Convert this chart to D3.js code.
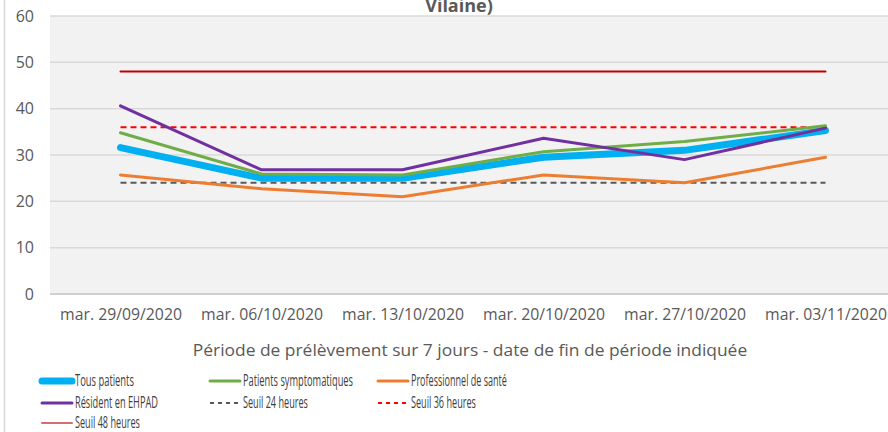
<!DOCTYPE html>
<html><head><meta charset="utf-8">
<script src="https://cdn.jsdelivr.net/npm/d3@7"></script>
<style>body{margin:0;background:#fff;} svg{display:block;font-family:"Open Sans",sans-serif;}</style>
</head><body><svg id="c" width="888" height="432"></svg>
<script>
const categories = ["mar. 29/09/2020","mar. 06/10/2020","mar. 13/10/2020","mar. 20/10/2020","mar. 27/10/2020","mar. 03/11/2020"];
const tousPatients = [31.6, 25.0, 25.0, 29.5, 31.0, 35.3];
const patientsSymptomatiques = [34.8, 25.9, 25.7, 30.7, 32.9, 36.3];
const professionnelSante = [25.7, 22.7, 21.0, 25.7, 24.0, 29.5];
const residentEHPAD = [40.6, 26.8, 26.8, 33.6, 29.0, 35.8];
const seuil24 = [24, 24, 24, 24, 24, 24];
const seuil36 = [36, 36, 36, 36, 36, 36];
const seuil48 = [48, 48, 48, 48, 48, 48];
const yTicks = [0, 10, 20, 30, 40, 50, 60];
const titleText = "Vilaine)";
const xAxisTitle = "Période de prélèvement sur 7 jours - date de fin de période indiquée";

const series = [
  {name:"Seuil 24 heures", values:seuil24, color:"#595959", width:2, dash:"6,4"},
  {name:"Seuil 36 heures", values:seuil36, color:"#ff0000", width:2, dash:"6,4"},
  {name:"Seuil 48 heures", values:seuil48, color:"#c00000", width:2, dash:null, legendColor:"#d07070"},
  {name:"Professionnel de santé", values:professionnelSante, color:"#ed7d31", width:3, dash:null},
  {name:"Tous patients", values:tousPatients, color:"#00b0f0", width:7, dash:null},
  {name:"Patients symptomatiques", values:patientsSymptomatiques, color:"#70ad47", width:3, dash:null},
  {name:"Résident en EHPAD", values:residentEHPAD, color:"#7030a0", width:3, dash:null}
];
const legendOrder = ["Tous patients","Patients symptomatiques","Professionnel de santé","Résident en EHPAD","Seuil 24 heures","Seuil 36 heures","Seuil 48 heures"];
const legendWidths = [59, 110, 96, 83, 65, 65, 65];

(function(){
const svg = d3.select("#c");
const pl = 50, pr = 896, pt = 16, pb = 294;
const x = d3.scalePoint().domain(categories).range([pl, pr]).padding(0.5);
const y = d3.scaleLinear().domain([0, 60]).range([pb, pt]);

function fit(node, target, ax){
  const w = node.getComputedTextLength();
  const k = target / w;
  d3.select(node).attr("transform", `translate(${ax},0) scale(${k},1) translate(${-ax},0)`);
}

svg.append("line").attr("x1",4.5).attr("x2",4.5).attr("y1",0).attr("y2",432).attr("stroke","#d9d9d9").attr("stroke-width",1.5);

svg.append("rect").attr("x",pl).attr("y",pt).attr("width",888-pl).attr("height",pb-pt).attr("fill","#f2f2f2");

svg.append("g").selectAll("line").data(yTicks).join("line")
  .attr("x1",pl).attr("x2",888).attr("y1",d=>y(d)).attr("y2",d=>y(d))
  .attr("stroke",d=>d===0?"#d0d0d0":"#d9d9d9").attr("stroke-width",d=>d===0?2:1.5);

const yAxis = d3.axisLeft(y).tickValues(yTicks).tickSize(0).tickPadding(0);
const gy = svg.append("g").attr("transform","translate(34,0)").call(yAxis);
gy.select(".domain").remove();
gy.selectAll("text").attr("font-size",16).attr("fill","#595959").attr("font-family","'Open Sans',sans-serif");

const xAxis = d3.axisBottom(x).tickSize(0).tickPadding(0);
const gx = svg.append("g").attr("transform","translate(0,308)").call(xAxis);
gx.select(".domain").remove();
gx.selectAll("text").attr("font-size",16.5).attr("fill","#595959").attr("font-family","'Open Sans',sans-serif").attr("dy","0.71em").attr("y",0)
  .each(function(){ fit(this, 122, 0); });

svg.append("text").attr("x",459).attr("y",12).attr("text-anchor","middle").attr("font-size",18).attr("font-weight","bold").attr("fill","#595959").attr("font-family","'Open Sans',sans-serif").text(titleText);

svg.append("text").attr("x",470).attr("y",356).attr("text-anchor","middle").attr("font-size",17).attr("fill","#595959")
  .text(xAxisTitle).each(function(){ fit(this, 555, 470); });

const line = d3.line().x((d,i)=>x(categories[i])).y(d=>y(d));
svg.append("g").selectAll("path").data(series).join("path")
  .attr("d",d=>line(d.values)).attr("fill","none")
  .attr("stroke",d=>d.color).attr("stroke-width",d=>d.width)
  .attr("stroke-dasharray",d=>d.dash).attr("stroke-linejoin","round").attr("stroke-linecap",d=>d.dash?"butt":"round");

const colX = [42, 210, 378];
const rowY = [381, 403, 423];
const lg = svg.append("g");
legendOrder.forEach((n,i)=>{
  const s = series.find(d=>d.name===n);
  const cx = colX[i%3], cy = rowY[Math.floor(i/3)];
  lg.append("line").attr("x1",cx).attr("x2",cx+30).attr("y1",cy).attr("y2",cy)
    .attr("stroke",s.legendColor||s.color).attr("stroke-width",s.width)
    .attr("stroke-dasharray",s.dash?"4,4":null).attr("stroke-linecap",s.dash?"butt":"round");
  lg.append("text").attr("x",cx+33).attr("y",cy).attr("dy","0.35em").attr("font-size",15.5).attr("fill","#404040")
    .text(n).each(function(){ fit(this, legendWidths[i], cx+33); });
});
})();
</script></body></html>
